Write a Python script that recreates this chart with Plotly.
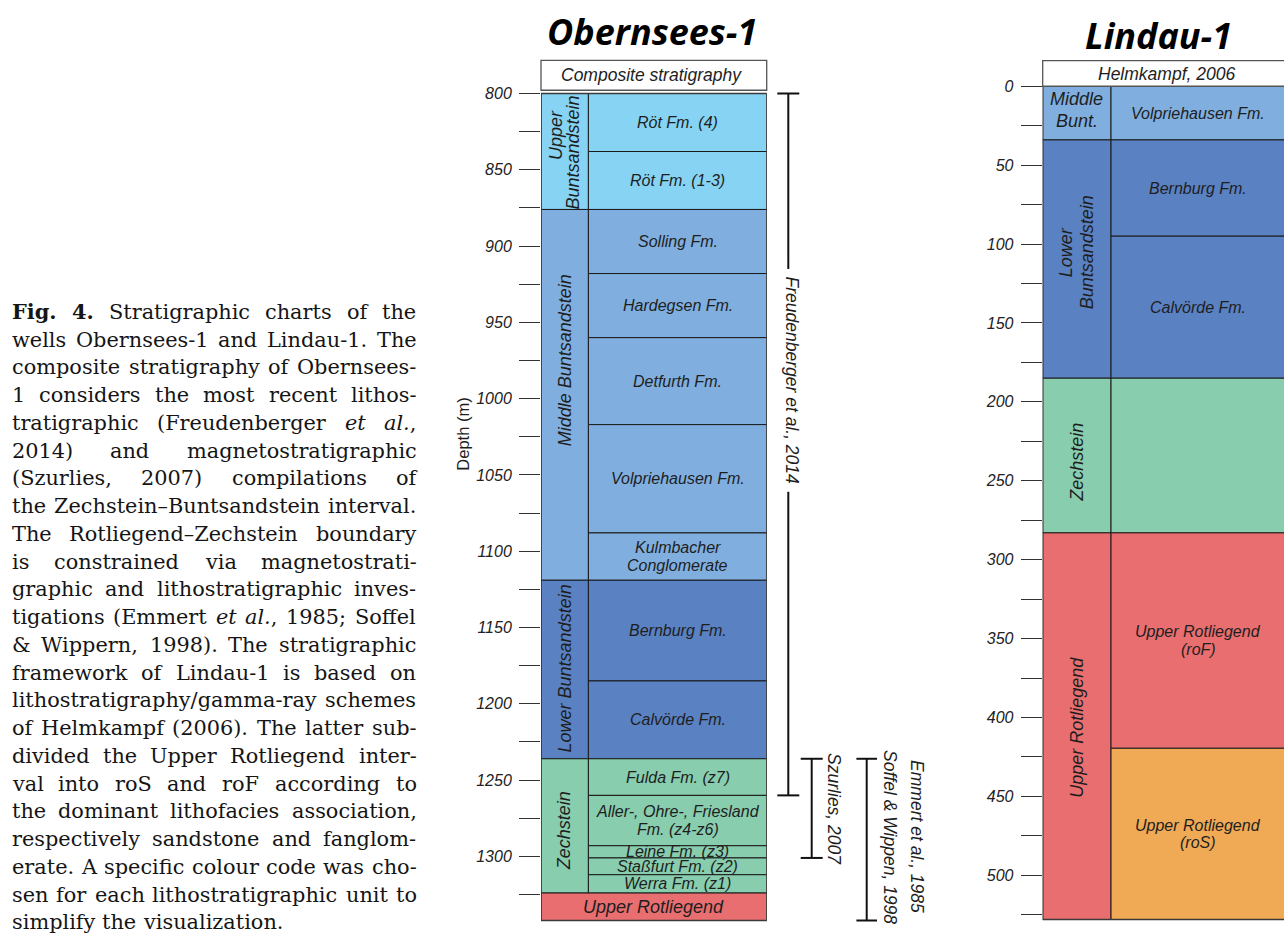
import glob
import re
import struct
import plotly.graph_objects as go

W, H = 1284, 934

# ------------------------------------------------------------------ data
# Obernsees-1 (depth in m)
obs_units = ["Upper<br>Buntsandstein", "Middle Buntsandstein", "Lower Buntsandstein", "Zechstein"]
obs_unit_top = [800, 876, 1119, 1236]
obs_unit_base = [876, 1119, 1236, 1324]
obs_unit_key = ["UB", "MB", "LB", "Z"]
obs_unit_label_depth = [[827, 838.5], [975], [1177], [1283]]

obs_formations = ["Röt Fm. (4)", "Röt Fm. (1-3)", "Solling Fm.", "Hardegsen Fm.", "Detfurth Fm.",
                  "Volpriehausen Fm.", "Kulmbacher<br>Conglomerate", "Bernburg Fm.", "Calvörde Fm.",
                  "Fulda Fm. (z7)", "Aller-, Ohre-, Friesland<br>Fm. (z4-z6)", "Leine Fm. (z3)",
                  "Staßfurt Fm. (z2)", "Werra Fm. (z1)"]
obs_fm_top = [800, 838, 876, 918, 960, 1017, 1088, 1119, 1185, 1236, 1260, 1293, 1301, 1312]
obs_fm_base = [838, 876, 918, 960, 1017, 1088, 1119, 1185, 1236, 1260, 1293, 1301, 1312, 1324]
obs_fm_key = ["UB", "UB", "MB", "MB", "MB", "MB", "MB", "LB", "LB", "Z", "Z", "Z", "Z", "Z"]

obs_base_unit = "Upper Rotliegend"
obs_base_top = 1324
obs_base_bottom = 1342

obs_ticks = [800, 850, 900, 950, 1000, 1050, 1100, 1150, 1200, 1250, 1300]

# Lindau-1 (depth in m)
lin_units = ["Middle<br>Bunt.", "Lower<br>Buntsandstein", "Zechstein", "Upper Rotliegend"]
lin_unit_top = [0, 34, 185, 283]
lin_unit_base = [34, 185, 283, 528]
lin_unit_key = ["MB", "LB", "Z", "RO"]
lin_unit_label_depth = [15, 105, 238, 406]

lin_formations = ["Volpriehausen Fm.", "Bernburg Fm.", "Calvörde Fm.", "",
                  "Upper Rotliegend<br>(roF)", "Upper Rotliegend<br>(roS)"]
lin_fm_top = [0, 34, 95, 185, 283, 419.5]
lin_fm_base = [34, 95, 185, 283, 419.5, 528]
lin_fm_key = ["MB", "LB", "LB", "Z", "RO", "ROS"]

lin_ticks = [0, 50, 100, 150, 200, 250, 300, 350, 400, 450, 500]

# reference brackets (Obernsees depth scale)
brackets = ["Freudenberger et al., 2014", "Szurlies, 2007", "Emmert et al., 1985|Soffel & Wippen, 1998"]
bracket_top = [800, 1236, 1236]
bracket_base = [1260, 1301, 1342]
bracket_text_depth = [988, 1269, 1287]

caption_lines = [
    "<b>Fig.</b> <b>4.</b> Stratigraphic charts of the",
    "wells Obernsees-1 and Lindau-1. The",
    "composite stratigraphy of Obernsees-",
    "1 considers the most recent lithos-",
    "tratigraphic (Freudenberger <i>et</i> <i>al.</i>,",
    "2014) and magnetostratigraphic",
    "(Szurlies, 2007) compilations of",
    "the Zechstein–Buntsandstein interval.",
    "The Rotliegend–Zechstein boundary",
    "is constrained via magnetostrati-",
    "graphic and lithostratigraphic inves-",
    "tigations (Emmert <i>et</i> <i>al.</i>, 1985; Soffel",
    "& Wippern, 1998). The stratigraphic",
    "framework of Lindau-1 is based on",
    "lithostratigraphy/gamma-ray schemes",
    "of Helmkampf (2006). The latter sub-",
    "divided the Upper Rotliegend inter-",
    "val into roS and roF according to",
    "the dominant lithofacies association,",
    "respectively sandstone and fanglom-",
    "erate. A specific colour code was cho-",
    "sen for each lithostratigraphic unit to",
    "simplify the visualization.",
]

COLORS = {"UB": "#86D3F3", "MB": "#80AFDF", "LB": "#5A81C2", "Z": "#88CDAE",
          "RO": "#E96E70", "ROS": "#F0AA56"}

# ------------------------------------------------------------------ layout geometry (pixels)
OBS_LEFT, OBS_RIGHT = 541.0, 766.7
OBS_SPLIT = 0.21
OBS_PX800, OBS_SCALE = 89.0, 1.534          # pixel of 800 m, px per m
OBS_RANGE = (798.0, 1345.0)

LIN_LEFT, LIN_RIGHT = 1042.7, 1285.0
LIN_SPLIT = 0.282
LIN_PX0, LIN_SCALE = 81.7, 1.5866
LIN_RANGE = (-2.0, 530.0)

SANS = "Liberation Sans, Arial, sans-serif"
TXT = "#1e1e1e"


def px(x):
    return x / W


def py(y):
    return 1 - y / H


def obs_pix(d):
    return OBS_PX800 + (d - 800) * OBS_SCALE


def lin_pix(d):
    return LIN_PX0 + d * LIN_SCALE


shapes = []
annotations = []


def rect(xref, yref, x0, x1, y0, y1, fill, lc="#1a1a1a", lw=1.0):
    shapes.append(dict(type="rect", xref=xref, yref=yref, x0=x0, x1=x1, y0=y0, y1=y1,
                       fillcolor=fill, line=dict(color=lc, width=lw), layer="above"))


def line(xref, yref, x0, x1, y0, y1, color="#111", width=2.0):
    shapes.append(dict(type="line", xref=xref, yref=yref, x0=x0, x1=x1, y0=y0, y1=y1,
                       line=dict(color=color, width=width), layer="above"))


def label(text, xref, x, yref, y, size, angle=0, xshift=0, yshift=0, family=SANS,
          style="italic", weight="normal", color=TXT):
    annotations.append(dict(text=text, xref=xref, yref=yref, x=x, y=y, showarrow=False,
                            textangle=angle, xanchor="center", yanchor="middle",
                            xshift=xshift, yshift=yshift, borderpad=0, borderwidth=0,
                            font=dict(family=family, size=size, color=color, style=style,
                                      weight=weight)))


def multiline(text, xref, x, yref, y, size, spacing, angle=0):
    parts = text.split("<br>")
    n = len(parts)
    for i, p in enumerate(parts):
        off = (i - (n - 1) / 2) * spacing
        if angle == 0:
            label(p, xref, x, yref, y, size, yshift=-off)
        elif angle == -90:
            label(p, xref, x, yref, y, size, angle=-90, xshift=off)
        else:
            label(p, xref, x, yref, y, size, angle=90, xshift=-off)


# ------------------------------------------------------------------ Obernsees column
for name, t, b, k, depths in zip(obs_units, obs_unit_top, obs_unit_base, obs_unit_key, obs_unit_label_depth):
    rect("x", "y", 0, OBS_SPLIT, t, b, COLORS[k])
    parts = name.split("<br>")
    if len(parts) == 1:
        label(parts[0], "x", OBS_SPLIT / 2, "y", depths[0], 18, angle=-90)
    else:
        for i, (p, d) in enumerate(zip(parts, depths)):
            label(p, "x", OBS_SPLIT / 2, "y", d, 18, angle=-90, xshift=(i - 0.5) * 17)

for name, t, b, k in zip(obs_formations, obs_fm_top, obs_fm_base, obs_fm_key):
    rect("x", "y", OBS_SPLIT, 1, t, b, COLORS[k])
for name, t, b in zip(obs_formations, obs_fm_top, obs_fm_base):
    multiline(name, "x", (OBS_SPLIT + 1) / 2, "y", (t + b) / 2, 16, 18)

rect("x", "y", 0, 1, obs_base_top, obs_base_bottom, COLORS["RO"])
label(obs_base_unit, "x", 0.5, "y", (obs_base_top + obs_base_bottom) / 2, 18)
# outer frame
rect("x", "y", 0, 1, obs_unit_top[0], obs_base_bottom, "rgba(0,0,0,0)", lc="#3a3a3a", lw=1.4)
# header
rect("paper", "paper", px(OBS_LEFT), px(OBS_RIGHT), py(85.7), py(55.7), "white", lc="#555", lw=1.3)
label("Composite stratigraphy", "paper", px(651), "paper", py(70.5), 17.5)
label("Obernsees-1", "paper", px(652), "paper", py(27), 36, family="Open Sans, sans-serif",
      weight="bold", color="#000")

# ------------------------------------------------------------------ Lindau column
for name, t, b, k in zip(lin_units, lin_unit_top, lin_unit_base, lin_unit_key):
    rect("x2", "y2", 0, LIN_SPLIT, t, b, COLORS[k])
for name, t, b, k in zip(lin_formations, lin_fm_top, lin_fm_base, lin_fm_key):
    rect("x2", "y2", LIN_SPLIT, 1, t, b, COLORS[k])
for name, d in zip(lin_units, lin_unit_label_depth):
    if name.startswith("Middle"):
        multiline(name, "x2", LIN_SPLIT / 2, "y2", d, 18, 21.7)
    else:
        multiline(name, "x2", LIN_SPLIT / 2, "y2", d, 18, 21, angle=-90)
for name, t, b in zip(lin_formations, lin_fm_top, lin_fm_base):
    if name:
        multiline(name, "x2", (LIN_SPLIT + 1) / 2, "y2", (t + b) / 2, 16, 17.5)
rect("x2", "y2", 0, 1, lin_unit_top[0], lin_unit_base[-1], "rgba(0,0,0,0)", lc="#3a3a3a", lw=1.4)
rect("paper", "paper", px(LIN_LEFT), px(LIN_RIGHT + 6), py(81.7), py(56), "white", lc="#555", lw=1.3)
label("Helmkampf, 2006", "paper", px(1166), "paper", py(69), 17.5)
label("Lindau-1", "paper", px(1158), "paper", py(31), 36, family="Open Sans, sans-serif",
      weight="bold", color="#000")

# ------------------------------------------------------------------ brackets
bracket_x = [788.3, 811.7, 866.7]
cap_half = [11, 11, 10.3]
for i, (txt, t, b, dtext) in enumerate(zip(brackets, bracket_top, bracket_base, bracket_text_depth)):
    bx = bracket_x[i]
    line("paper", "y", px(bx - cap_half[i]), px(bx + cap_half[i]), t, t)
    line("paper", "y", px(bx - cap_half[i]), px(bx + cap_half[i]), b, b)
    if i == 0:
        half_gap = 112 / OBS_SCALE
        line("paper", "y", px(bx), px(bx), t, dtext - half_gap)
        line("paper", "y", px(bx), px(bx), dtext + half_gap, b)
        label(txt, "paper", px(bx + 3.5), "y", dtext, 17.5, angle=90)
    elif i == 1:
        line("paper", "y", px(bx), px(bx), t, b)
        label(txt, "paper", px(834), "y", dtext, 17.5, angle=90)
    else:
        line("paper", "y", px(bx), px(bx), t, b)
        first, second = txt.split("|")
        label(first, "paper", px(917.5), "y", dtext, 17.5, angle=90)
        label(second.replace("&", "&amp;"), "paper", px(890.5), "y", dtext, 17.5, angle=90)

label("Depth (m)", "paper", px(463), "paper", py(432), 16.5, angle=-90, style="normal")

# ------------------------------------------------------------------ caption (justified)
def _find(name):
    for root in ("/usr/share/fonts", "/usr/local/share/fonts", "/usr/share/fonts/truetype"):
        hits = glob.glob(root + "/**/" + name, recursive=True)
        if hits:
            return hits[0]
    return None


def load_width_fn(path):
    with open(path, "rb") as f:
        data = f.read()
    num = struct.unpack(">H", data[4:6])[0]
    tables = {}
    for i in range(num):
        tag, _, off, _ln = struct.unpack(">4sIII", data[12 + 16 * i: 28 + 16 * i])
        tables[tag] = off
    head = tables[b"head"]
    upem = struct.unpack(">H", data[head + 18: head + 20])[0]
    hhea = tables[b"hhea"]
    nh = struct.unpack(">H", data[hhea + 34: hhea + 36])[0]
    hmtx = tables[b"hmtx"]
    adv = struct.unpack(">%dH" % (2 * nh), data[hmtx: hmtx + 4 * nh])[0::2]
    cmap = tables[b"cmap"]
    nsub = struct.unpack(">H", data[cmap + 2: cmap + 4])[0]
    sub = None
    for i in range(nsub):
        pid, eid, off = struct.unpack(">HHI", data[cmap + 4 + 8 * i: cmap + 12 + 8 * i])
        fmt = struct.unpack(">H", data[cmap + off: cmap + off + 2])[0]
        if fmt == 4 and ((pid == 3 and eid == 1) or pid == 0):
            sub = cmap + off
            break
    segx2 = struct.unpack(">H", data[sub + 6: sub + 8])[0]
    seg = segx2 // 2
    ends = struct.unpack(">%dH" % seg, data[sub + 14: sub + 14 + segx2])
    starts = struct.unpack(">%dH" % seg, data[sub + 16 + segx2: sub + 16 + 2 * segx2])
    deltas = struct.unpack(">%dh" % seg, data[sub + 16 + 2 * segx2: sub + 16 + 3 * segx2])
    ro_pos = sub + 16 + 3 * segx2
    ros = struct.unpack(">%dH" % seg, data[ro_pos: ro_pos + segx2])

    def glyph(c):
        for s in range(seg):
            if ends[s] >= c:
                if starts[s] > c:
                    return 0
                if ros[s] == 0:
                    return (c + deltas[s]) & 0xFFFF
                addr = ro_pos + 2 * s + ros[s] + 2 * (c - starts[s])
                g = struct.unpack(">H", data[addr: addr + 2])[0]
                return (g + deltas[s]) & 0xFFFF if g else 0
        return 0

    cache = {}

    def width(text):
        tot = 0
        for ch in text:
            if ch not in cache:
                g = glyph(ord(ch))
                cache[ch] = adv[g] if g < nh else adv[-1]
            tot += cache[ch]
        return tot / upem
    return width


SERIF = "DejaVu Serif"
try:
    reg = load_width_fn(_find("DejaVuSerif.ttf"))
    try:
        bold = load_width_fn(_find("DejaVuSerif-Bold.ttf"))
    except Exception:
        bold = reg
    try:
        ital = load_width_fn(_find("DejaVuSerif-Italic.ttf"))
    except Exception:
        ital = reg
except Exception:
    SERIF = "Liberation Serif"
    try:
        reg = load_width_fn(_find("LiberationSerif-Regular.ttf"))
        bold = reg
        ital = reg
    except Exception:
        reg = bold = ital = (lambda s: 0.5 * len(s))


def word_width(word):
    b = i = False
    tot = 0.0
    for seg in re.split(r"(</?[bi]>)", word):
        if seg == "<b>":
            b = True
        elif seg == "</b>":
            b = False
        elif seg == "<i>":
            i = True
        elif seg == "</i>":
            i = False
        elif seg:
            fn = bold if b else (ital if i else reg)
            tot += fn(seg)
    return tot


CAP_LEFT, CAP_RIGHT = 12.0, 416.5
CAP_Y0, CAP_DY = 308.5, 27.9
words_per_line = [ln.split(" ") for ln in caption_lines]
space_em = reg(" ")
natural = [sum(word_width(w) for w in ws) + space_em * (len(ws) - 1) for ws in words_per_line[:-1]]
fs = min(21.0, (CAP_RIGHT - CAP_LEFT) / max(natural) * 0.995)

for li, ws in enumerate(words_per_line):
    yc = CAP_Y0 + CAP_DY * li
    widths = [word_width(w) * fs for w in ws]
    if li < len(words_per_line) - 1 and len(ws) > 1:
        gap = (CAP_RIGHT - CAP_LEFT - sum(widths)) / (len(ws) - 1)
    else:
        gap = space_em * fs
    x = CAP_LEFT
    for w, wd in zip(ws, widths):
        annotations.append(dict(text=w.replace("&", "&amp;"), xref="paper", yref="paper",
                                x=px(x), y=py(yc), xanchor="left", yanchor="middle",
                                showarrow=False, borderpad=0, borderwidth=0,
                                font=dict(family=SERIF, size=fs, color="#151515")))
        x += wd + gap

# ------------------------------------------------------------------ figure
fig = go.Figure()
fig.add_trace(go.Scatter(x=[0.5], y=[obs_unit_top[0]], xaxis="x", yaxis="y", mode="markers",
                         marker=dict(opacity=0), hoverinfo="skip", showlegend=False))
fig.add_trace(go.Scatter(x=[0.5], y=[lin_unit_top[0]], xaxis="x2", yaxis="y2", mode="markers",
                         marker=dict(opacity=0), hoverinfo="skip", showlegend=False))


def ydomain(pix, rng):
    return [1 - pix(rng[1]) / H, 1 - pix(rng[0]) / H]


tickfont = dict(family=SANS, size=16, color="#222", style="italic")
common_y = dict(ticks="outside", ticklen=21, tickwidth=1.4, tickcolor="#333",
                showgrid=False, zeroline=False, showline=False, tickfont=tickfont,
                ticklabelstandoff=4,
                minor=dict(ticks="outside", ticklen=21, tickwidth=1.4, tickcolor="#333",
                           dtick=25, tick0=0, showgrid=False))

fig.update_layout(
    width=W, height=H, margin=dict(l=0, r=0, t=0, b=0),
    paper_bgcolor="white", plot_bgcolor="rgba(0,0,0,0)",
    showlegend=False, hovermode=False,
    xaxis=dict(domain=[px(OBS_LEFT), px(OBS_RIGHT)], range=[0, 1], visible=False, anchor="y"),
    yaxis=dict(domain=ydomain(obs_pix, OBS_RANGE), range=[OBS_RANGE[1], OBS_RANGE[0]],
               anchor="x", tickvals=obs_ticks, **common_y),
    xaxis2=dict(domain=[px(LIN_LEFT), 1.0],
                range=[0, (W - LIN_LEFT) / (LIN_RIGHT - LIN_LEFT)], visible=False, anchor="y2"),
    yaxis2=dict(domain=ydomain(lin_pix, LIN_RANGE), range=[LIN_RANGE[1], LIN_RANGE[0]],
                anchor="x2", tickvals=lin_ticks, **common_y),
    shapes=shapes,
    annotations=annotations,
)

post = ("document.documentElement.style.margin='0';document.documentElement.style.padding='0';"
        "document.body.style.margin='0';document.body.style.padding='0';"
        "document.documentElement.style.overflow='hidden';document.body.style.overflow='hidden';"
        "var gd=document.querySelector('.plotly-graph-div');"
        "if(gd){gd.style.position='absolute';gd.style.top='0px';gd.style.left='0px';}"
        "window.scrollTo(0,0);")
fig.write_html("out.html", config={"displayModeBar": False}, post_script=post)
